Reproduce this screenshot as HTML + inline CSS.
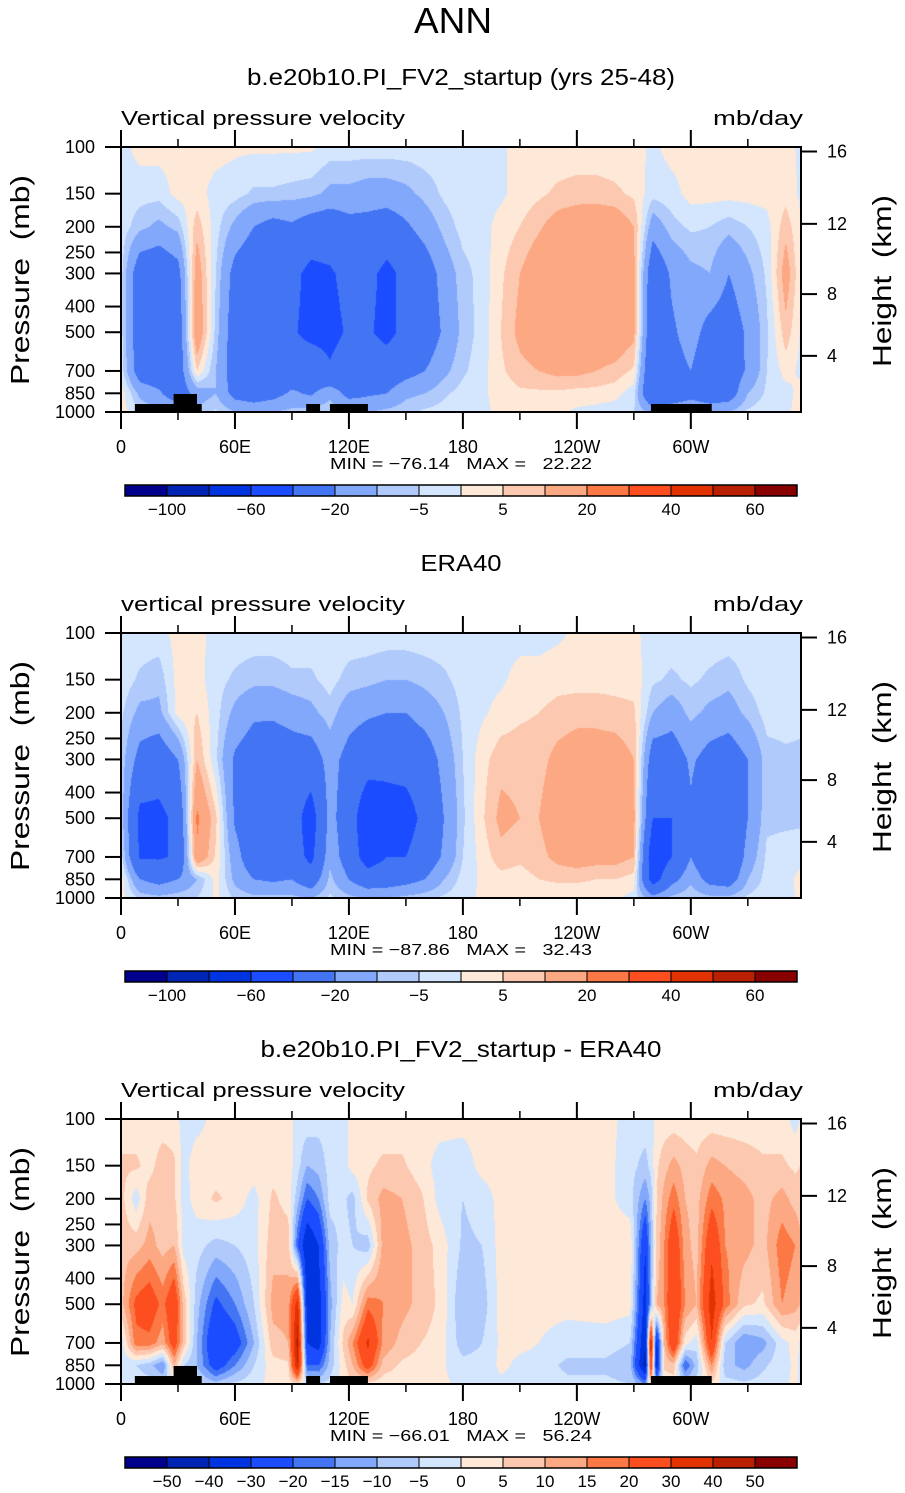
<!DOCTYPE html>
<html><head><meta charset="utf-8">
<style>
html,body{margin:0;padding:0;background:#fff;}
#root{position:relative;width:905px;height:1493px;overflow:hidden;font-family:"Liberation Sans",sans-serif;}
canvas{position:absolute;left:121px;}
svg{position:absolute;left:0;top:0;}
text{font-family:"Liberation Sans",sans-serif;fill:#000;}
</style></head>
<body>
<div id="root">
<canvas id="c1" width="680" height="265" style="top:147px"></canvas>
<canvas id="c2" width="680" height="265" style="top:633px"></canvas>
<canvas id="c3" width="680" height="265" style="top:1119px"></canvas>
<svg id="ov" width="905" height="1493"></svg>
</div>
<script>
// ---- data ----
const pressureLevels = [100,150,200,300,500,700,850,1000];
const lonReg = [0,10,20,30,40,50,60,70,80,90,100,110,120,130,140,150,160,170,180,190,200,210,220,230,240,250,260,270,280,290,300,310,320,330,340,350];
const m100 = [-2,2,2,2,2,2,1,1,1,1,1,-2,-2,-2,-2,-2,-2,-2,-2,-2,-1,2,2,2,2,2,2,2,-1,2,2,2,2,2,2,2];
const m150 = [-2,-3,-3,2,2,-2,-3,-6,-6,-7,-8,-12,-12,-14,-14,-12,-8,-4,-2,-2,-1,2,4,6,7,7,6,4,-3,-2,2,2,2,2,2,3];
const m200 = [-2,-8,-12,-8,8,-3,-12,-20,-25,-22,-28,-30,-25,-25,-28,-22,-15,-8,-3,-2,2,5,9,14,16,17,16,10,-15,-7,-4,-5,-8,-5,-2,8];
const m300 = [-3,-30,-32,-25,15,-5,-25,-32,-35,-35,-45,-42,-35,-35,-45,-35,-28,-15,-7,-3,4,10,16,18,18,18,17,12,-32,-18,-12,-10,-20,-12,-4,14];
const m500 = [-3,-30,-32,-30,18,-7,-28,-35,-35,-38,-45,-45,-38,-38,-45,-35,-30,-18,-8,-3,5,12,16,18,18,18,17,12,-35,-22,-15,-25,-28,-18,-6,8];
const m700 = [-2,-28,-30,-30,5,-10,-28,-32,-30,-30,-28,-38,-30,-30,-30,-25,-20,-12,-6,-2,4,8,10,12,12,10,8,4,-38,-25,-20,-30,-30,-18,-5,2];
const m850 = [3,-12,-18,-30,-15,-10,-25,-28,-25,-18,-22,-12,-25,-22,-20,-12,-10,-6,-3,-1,2,4,4,4,3,3,2,-3,-40,-30,-25,-30,-28,-10,-4,-2];
const m1000 = [3,-5,-8,-10,-8,-4,-10,-12,-10,-8,-6,-6,-8,-10,-8,-6,-4,-3,-2,-1,1,1,1,1,-1,-2,-3,-5,-12,-12,-10,-12,-10,-4,-2,-1];

const e100 = [-2,-2,-2,2,2,-2,-2,-2,-2,-2,-2,-1,-2,-2,-2,-2,-2,-2,-2,-2,-2,-2,-2,-1,1,1,1,1,-2,-2,-2,-2,-2,-2,-2,-2];
const e150 = [-2,-6,-8,2,2,-3,-6,-8,-8,-6,-6,-3,-7,-8,-10,-10,-8,-6,-3,-2,-1,2,2,3,3,3,3,3,-4,-6,-4,-6,-8,-4,-2,-2];
const e200 = [-4,-12,-12,2,5,-3,-12,-18,-18,-15,-12,-7,-15,-18,-20,-20,-15,-10,-4,-1,2,4,5,7,8,8,7,6,-10,-15,-8,-12,-14,-8,-3,-3];
const e300 = [-6,-25,-30,-20,10,-4,-22,-28,-30,-28,-28,-15,-25,-32,-35,-33,-28,-16,-5,3,8,8,8,12,14,14,14,10,-28,-28,-18,-25,-28,-20,-7,-6];
const e500 = [-6,-45,-45,-35,22,6,-22,-30,-32,-30,-50,-15,-30,-55,-48,-48,-35,-20,-6,4,12,10,10,15,17,16,16,12,-40,-40,-22,-35,-40,-20,-6,-6];
const e700 = [-2,-42,-42,-38,18,4,-15,-30,-30,-30,-45,-12,-28,-50,-40,-40,-30,-18,-5,2,8,6,8,12,14,13,13,10,-55,-40,-20,-35,-38,-15,-4,-3];
const e850 = [3,-20,-25,-20,-10,2,-12,-20,-22,-20,-30,-8,-20,-30,-28,-25,-20,-10,-3,1,3,3,5,6,6,5,5,3,-50,-25,-12,-25,-28,-10,-3,-2];
const e1000 = [2,-6,-8,-6,-5,1,-6,-8,-8,-8,-10,-4,-8,-10,-10,-8,-6,-4,-2,1,1,1,1,1,1,1,1,-2,-15,-8,-5,-8,-8,-4,-2,-2];

const lonDiff = [0,8,15,22,28,33,40,50,60,70,80,88,93,98,104,110,117,122,130,138,148,158,168,180,190,200,215,235,255,268,276,279,282,286,291,297,303,311,318,328,338,348,355];
const d100 = [2,2,2,2,2,-2,-2,2,2,2,2,2,-2,-2,-3,-3,-2,2,2,2,2,2,2,2,2,2,2,2,2,-2,-2,-2,2,2,2,2,2,2,2,2,2,2,-2];
const d150 = [6,6,3,8,6,-2,3,2,3,3,3,3,-3,-10,-8,-3,-2,2,4,6,6,2,-2,-3,2,2,2,2,2,-3,-7,-3,4,8,12,8,6,12,10,8,6,6,4];
const d200 = [7,-3,8,8,6,-2,2,6,3,-2,6,3,-8,-20,-15,-3,-4,-7,6,12,10,6,-2,-5,-3,2,2,2,2,-3,-15,-8,5,12,18,10,8,18,14,12,8,12,8];
const d300 = [8,8,12,8,10,-2,-3,-7,-5,-2,8,8,-20,-40,-30,-8,-3,-5,-8,12,12,8,3,-6,-5,2,2,2,3,4,-30,-10,6,15,28,12,8,28,15,12,8,18,15];
const d500 = [8,22,25,18,28,8,-8,-22,-15,-5,12,12,35,-35,-35,-12,2,0,18,15,12,8,4,-10,-8,2,2,2,3,2,-35,-10,10,15,30,15,10,35,18,6,4,15,12];
const d700 = [-3,18,18,12,25,8,-10,-30,-25,-10,8,10,45,-30,-35,-10,6,15,32,14,8,5,3,-8,-5,1,1,-3,-3,-5,-40,40,-35,10,30,2,-3,30,-5,-15,-12,-2,2];
const d850 = [-3,-5,-8,-15,10,-5,-10,-25,-15,-5,3,4,40,-20,-20,-8,3,10,25,8,4,3,1,-3,-3,1,-2,-6,-6,-8,-45,30,-35,6,8,-20,-8,15,-8,-12,-6,-2,1];
const d1000 = [-2,-2,-3,-5,-2,-2,-4,-8,-4,-2,2,2,5,-4,-5,-3,2,4,3,2,2,1,1,-1,-2,-1,-2,-4,-4,-5,-15,8,-10,2,2,-6,-3,4,-3,-4,-3,-1,1];

const levelsAbs = [-100,-80,-60,-40,-20,-10,-5,0,5,10,20,30,40,50,60];
const labelsAbs = ["−100","","−60","","−20","","−5","","5","","20","","40","","60"];
const levelsDiff = [-50,-40,-30,-20,-15,-10,-5,0,5,10,15,20,30,40,50];
const labelsDiff = ["−50","−40","−30","−20","−15","−10","−5","0","5","10","15","20","30","40","50"];
const palette = ["#00008c","#0024b4","#0034e0","#1c4cff","#4274f4","#82a8fc","#b0cafc","#d4e6fd","#fee8d8","#fcc8b0","#fca882","#fc7844","#fc4e1e","#e23200","#b82000","#880000"];

const yTickP = [100,150,200,250,300,400,500,700,850,1000];
const lonTicks = [0,60,120,180,240,300];
const lonTickLabels = ["0","60E","120E","180","120W","60W"];
const lonMinor = [30,90,150,210,270,330];
const kmTicks = [16,12,8,4];
const kmTickP = [104,195,359,614];
// land mask blocks: [lonStart, lonEnd, topPressure]
const landLon0 = [7.3,27.7,97.5,110,279];
const landLon1 = [42.5,40,104.8,130,311];
const landTopP = [933,855,933,933,933];

// ---- geometry ----
const PX0 = 121, PW = 680, PH = 265, LONMAX = 358;
function xOf(lon){ return PX0 + lon * PW / LONMAX; }
function yOf(p, top){ return top + (Math.log10(p) - 2) * PH; }

function colorIdx(v, levels){ let i = 0; while (i < levels.length && v >= levels[i]) i++; return i; }
function hexRGB(h){ return [parseInt(h.substr(1,2),16),parseInt(h.substr(3,2),16),parseInt(h.substr(5,2),16)]; }

function drawField(canvasId, lons, rows, levels){
  const cv = document.getElementById(canvasId);
  const ctx = cv.getContext('2d');
  const img = ctx.createImageData(PW, PH);
  const rgb = palette.map(hexRGB);
  const logL = pressureLevels.map(p => Math.log10(p));
  const ext = lons.concat([360]);
  for (let py = 0; py < PH; py++){
    const lp = 2 + (py + 0.5) / PH;
    let r = 0; while (r < logL.length - 2 && lp > logL[r+1]) r++;
    let fy = (lp - logL[r]) / (logL[r+1] - logL[r]); fy = Math.max(0, Math.min(1, fy));
    const ra = rows[r], rb = rows[r+1];
    for (let px = 0; px < PW; px++){
      const lon = (px + 0.5) * LONMAX / PW;
      let c = 0; while (c < ext.length - 2 && lon > ext[c+1]) c++;
      const fx = (lon - ext[c]) / (ext[c+1] - ext[c]);
      const c2 = (c + 1) % lons.length;
      const va = ra[c] * (1 - fx) + ra[c2] * fx;
      const vb = rb[c] * (1 - fx) + rb[c2] * fx;
      const v = va * (1 - fy) + vb * fy;
      const col = rgb[colorIdx(v, levels)];
      const k = (py * PW + px) * 4;
      img.data[k] = col[0]; img.data[k+1] = col[1]; img.data[k+2] = col[2]; img.data[k+3] = 255;
    }
  }
  ctx.putImageData(img, 0, 0);
}

const NS = "http://www.w3.org/2000/svg";
const ov = document.getElementById('ov');
function mk(tag, attrs, parent){
  const e = document.createElementNS(NS, tag);
  for (const k in attrs) e.setAttribute(k, attrs[k]);
  (parent || ov).appendChild(e);
  return e;
}
function txt(s, x, y, size, anchor, extra){
  const t = mk('text', Object.assign({x:x, y:y, 'font-size':size, 'text-anchor':anchor||'start'}, extra||{}));
  t.textContent = s;
  return t;
}

function drawPanel(idx, top, title, titleLen, subtitle, minmax, lons, rows, levels, cbLabels, land){
  drawField('c' + idx, lons, rows, levels);
  const tt = txt(title, 461, top - 62, 23, 'middle', {textLength: titleLen, lengthAdjust: 'spacingAndGlyphs'});
  
  
  const st = txt(subtitle, 121, top - 22, 20, 'start', {textLength: 284, lengthAdjust: 'spacingAndGlyphs'});
  
  
  const un = txt("mb/day", 803, top - 22, 20, 'end', {textLength: 90, lengthAdjust: 'spacingAndGlyphs'});
  
  
  if (land){
    for (let i = 0; i < landLon0.length; i++){
      const r = mk('rect', {x: xOf(landLon0[i]), y: yOf(landTopP[i], top), width: xOf(landLon1[i]) - xOf(landLon0[i]), height: yOf(1000, top) - yOf(landTopP[i], top), fill: '#000'});
      
      
    }
  }
  const fr = mk('rect', {x: PX0, y: top, width: PW, height: PH, fill: 'none', stroke: '#000', 'stroke-width': 2});
  
  
  yTickP.forEach(p => {
    const y = yOf(p, top);
    mk('line', {x1: PX0 - 16, x2: PX0, y1: y, y2: y, stroke: '#000', 'stroke-width': 2});
    const l = txt(String(p), 95, y + 6, 18, 'end');
    
    
  });
  kmTicks.forEach((km, i) => {
    const y = yOf(kmTickP[i], top);
    mk('line', {x1: PX0 + PW, x2: PX0 + PW + 16, y1: y, y2: y, stroke: '#000', 'stroke-width': 2});
    const l = txt(String(km), 827, y + 6, 18, 'start');
    
    
  });
  lonTicks.forEach((lon, i) => {
    const x = xOf(lon);
    mk('line', {x1: x, x2: x, y1: top - 17, y2: top, stroke: '#000', 'stroke-width': 2});
    mk('line', {x1: x, x2: x, y1: top + PH, y2: top + PH + 17, stroke: '#000', 'stroke-width': 2});
    const l = txt(lonTickLabels[i], x, top + PH + 41, 18, 'middle');
    
    
  });
  lonMinor.forEach(lon => {
    const x = xOf(lon);
    mk('line', {x1: x, x2: x, y1: top - 8, y2: top, stroke: '#000', 'stroke-width': 1.5});
    mk('line', {x1: x, x2: x, y1: top + PH, y2: top + PH + 8, stroke: '#000', 'stroke-width': 1.5});
  });
  const mm = txt(minmax, 461, top + PH + 57, 16, 'middle', {textLength: 262, lengthAdjust: 'spacingAndGlyphs'});
  
  
  const ya = txt("Pressure\u00a0\u00a0(mb)", 0, 0, 26, 'middle', {transform: 'translate(29,' + (top + 133) + ') rotate(-90)', textLength: 210, lengthAdjust: 'spacingAndGlyphs'});
  
  
  const ha = txt("Height\u00a0\u00a0(km)", 0, 0, 26, 'middle', {transform: 'translate(891,' + (top + 134) + ') rotate(-90)', textLength: 172, lengthAdjust: 'spacingAndGlyphs'});
  
  
  const cbTop = top + 338, cbX = 125, bw = 672 / palette.length;
  palette.forEach((c, i) => {
    const r = mk('rect', {x: cbX + i * bw, y: cbTop, width: bw, height: 11, fill: c, stroke: '#000', 'stroke-width': 1});
    
    
  });
  mk('rect', {x: cbX, y: cbTop, width: 672, height: 11, fill: 'none', stroke: '#000', 'stroke-width': 1.5});
  cbLabels.forEach((s, i) => {
    if (!s) return;
    const l = txt(s, cbX + (i + 1) * bw, cbTop + 30, 17, 'middle');
    
    
  });
}

const mainT = txt("ANN", 453, 33, 36, 'middle', {textLength: 78, lengthAdjust: 'spacingAndGlyphs'});



drawPanel(1, 147, "b.e20b10.PI_FV2_startup (yrs 25-48)", 428, "Vertical pressure velocity", "MIN\u00a0=\u00a0−76.14\u00a0\u00a0\u00a0MAX\u00a0=\u00a0\u00a0\u00a022.22",
  lonReg, [m100,m150,m200,m300,m500,m700,m850,m1000], levelsAbs, labelsAbs, true);
drawPanel(2, 633, "ERA40", 81, "vertical pressure velocity", "MIN\u00a0=\u00a0−87.86\u00a0\u00a0\u00a0MAX\u00a0=\u00a0\u00a0\u00a032.43",
  lonReg, [e100,e150,e200,e300,e500,e700,e850,e1000], levelsAbs, labelsAbs, false);
drawPanel(3, 1119, "b.e20b10.PI_FV2_startup - ERA40", 401, "Vertical pressure velocity", "MIN\u00a0=\u00a0−66.01\u00a0\u00a0\u00a0MAX\u00a0=\u00a0\u00a0\u00a056.24",
  lonDiff, [d100,d150,d200,d300,d500,d700,d850,d1000], levelsDiff, labelsDiff, true);
</script>
</body></html>
